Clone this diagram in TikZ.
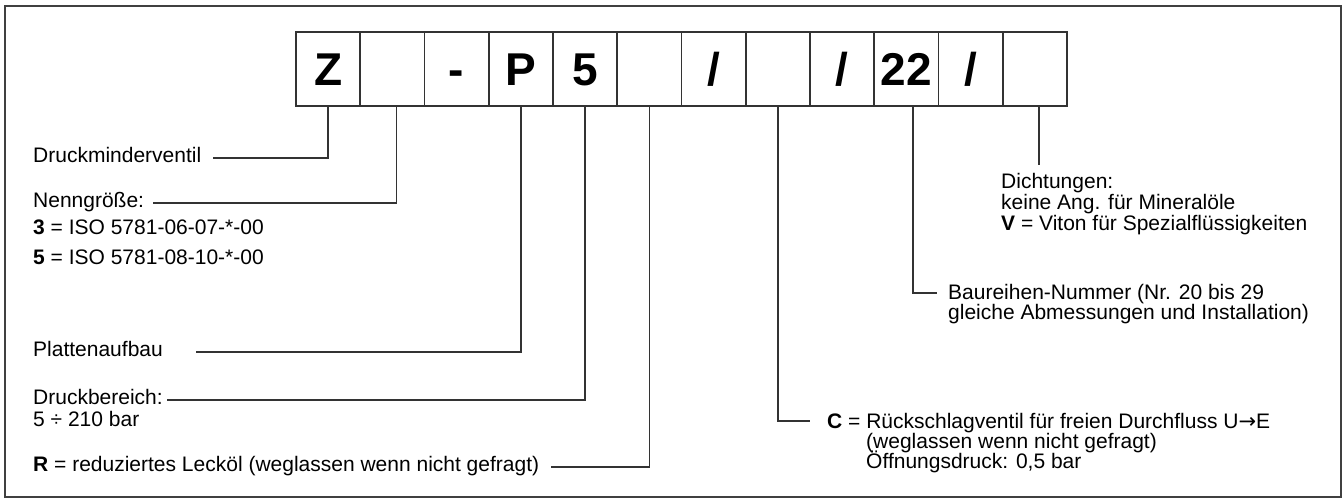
\documentclass[tikz,border=0pt]{standalone}
\usepackage{fontspec}
\setmainfont{Liberation Sans}
\newfontfamily\arrowfont{DejaVu Sans}
\begin{document}
\begin{tikzpicture}[x=1pt,y=-1pt,
  cell/.style={draw=black!80, line width=1.6pt, minimum width=64.25pt, minimum height=74pt, inner sep=0pt, text height=33pt, text depth=0pt, font=\fontsize{46}{46}\selectfont\bfseries},
  lab/.style={anchor=base west, inner sep=0pt, font=\fontsize{21}{21}\selectfont},
  lead/.style={draw=black!80, line width=1.4pt},
]
\useasboundingbox (0,0) rectangle (1342,498);
\draw[black!75, line width=1.5pt] (5,6) rectangle (1341,497);

\node[cell] (b1) at (328.1,69) {Z};
\node[cell] (b2) at (392.4,69) {};
\node[cell] (b3) at (456.6,69) {-};
\node[cell] (b4) at (520.9,69) {P};
\node[cell] (b5) at (585.1,69) {5};
\node[cell] (b6) at (649.4,69) {};
\node[cell] (b7) at (713.6,69) {/};
\node[cell] (b8) at (777.9,69) {};
\node[cell] (b9) at (842.1,69) {/};
\node[cell] (b10) at (906.4,69) {22};
\node[cell] (b11) at (970.6,69) {/};
\node[cell] (b12) at (1034.9,69) {};

\node[lab] (l1) at (33,162) {Druckminderventil};
\node[lab] (l2) at (33,207) {Nenngröße:};
\node[lab] (l2a) at (33,234.5) {\textbf{3} = ISO 5781-06-07-*-00};
\node[lab] (l2b) at (33,264.5) {\textbf{5} = ISO 5781-08-10-*-00};
\node[lab] (l4) at (33,356) {Plattenaufbau};
\node[lab] (l5) at (33,404) {Druckbereich:};
\node[lab] (l5a) at (33,426) {5 ÷ 210 bar};
\node[lab] (l6) at (33,471) {\textbf{R} = reduziertes Lecköl (weglassen wenn nicht gefragt)};
\node[lab] (l8) at (827,428) {\textbf{C} = Rückschlagventil für freien Durchfluss U{\arrowfont →}E};
\node[lab] (l8a) at (866,448) {(weglassen wenn nicht gefragt)};
\node[lab] (l8b) at (866,468) {Öffnungsdruck: 0,5 bar};
\node[lab] (l10) at (948,299) {Baureihen-Nummer (Nr. 20 bis 29};
\node[lab] (l10a) at (948,319) {gleiche Abmessungen und Installation)};
\node[lab] (l12) at (1001,188) {Dichtungen:};
\node[lab] (l12a) at (1001,209) {keine Ang. für Mineralöle};
\node[lab] (l12b) at (1001,230) {\textbf{V} = Viton für Spezialflüssigkeiten};

\coordinate (e12) at (1039,165);

\draw[lead] (b1.south) |- ([xshift=12pt,yshift=4pt]l1.base east);
\draw[lead] ([xshift=4pt]b2.south) |- ([xshift=9pt,yshift=4pt]l2.base east);
\draw[lead] (b4.south) |- ([xshift=33pt,yshift=4pt]l4.base east);
\draw[lead] (b5.south) |- ([xshift=4.5pt,yshift=4pt]l5.base east);
\draw[lead] (b6.south) |- ([xshift=12pt,yshift=4pt]l6.base east);
\draw[lead] (b8.south) |- ([xshift=-17pt,yshift=7pt]l8.base west);
\draw[lead] ([xshift=6.5pt]b10.south) |- ([xshift=-11pt,yshift=6pt]l10.base west);
\draw[lead] (b12.south -| e12) -- (e12);
\end{tikzpicture}
\end{document}
